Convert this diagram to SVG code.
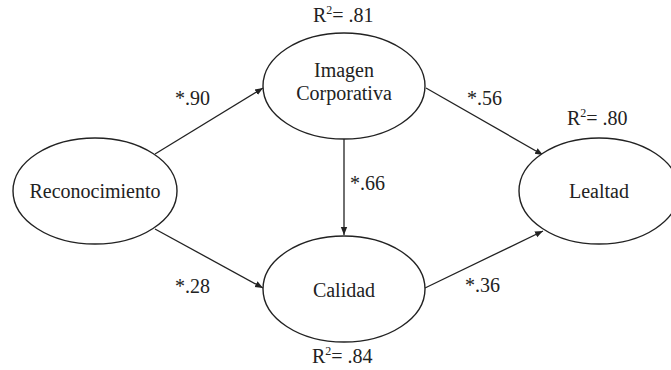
<svg xmlns="http://www.w3.org/2000/svg" width="671" height="370" viewBox="0 0 671 370">
<style>
.node ellipse{fill:#fff;stroke:#222;stroke-width:1.4}
text{font-family:'Liberation Serif','Times New Roman','DejaVu Serif',serif;font-size:20px;fill:#222}
.c{text-anchor:middle}
.edge{stroke:#222;stroke-width:1.3;fill:none;marker-end:url(#arr)}
.sup{font-size:12px}
</style>
<defs>
<marker id="arr" markerWidth="9" markerHeight="8" refX="8" refY="4" orient="auto" markerUnits="userSpaceOnUse">
<path d="M0,0.8 L8,4 L0,7.2 Z" fill="#222"/>
</marker>
</defs>
<rect width="671" height="370" fill="#fff"/>
<g id="connectors">
<line class="edge" x1="155" y1="154" x2="263" y2="88"/>
<line class="edge" x1="426" y1="88" x2="543" y2="155"/>
<line class="edge" x1="344" y1="139" x2="344" y2="235"/>
<line class="edge" x1="155" y1="229" x2="263" y2="288"/>
<line class="edge" x1="425" y1="288" x2="543" y2="231"/>
</g>
<g id="reconocimiento" class="node">
<ellipse cx="95" cy="191" rx="82" ry="53"/>
<text class="c" x="95" y="198" font-family="Liberation Serif, serif">Reconocimiento</text>
</g>
<g id="imagen" class="node">
<ellipse cx="344" cy="86" rx="81" ry="53"/>
<text class="c" x="344" y="77">Imagen</text>
<text class="c" x="344" y="100">Corporativa</text>
</g>
<g id="calidad" class="node">
<ellipse cx="344" cy="289" rx="81" ry="53"/>
<text class="c" x="344" y="297">Calidad</text>
</g>
<g id="lealtad" class="node">
<ellipse cx="599" cy="191" rx="80" ry="53"/>
<text class="c" x="599" y="198">Lealtad</text>
</g>
<g id="labels">
<text x="175" y="105">*.90</text>
<text x="467" y="105">*.56</text>
<text x="350" y="190">*.66</text>
<text x="175" y="293">*.28</text>
<text x="465" y="292">*.36</text>
<text x="313" y="22">R<tspan class="sup" dy="-8">2</tspan><tspan dy="8">= .81</tspan></text>
<text x="567" y="125">R<tspan class="sup" dy="-8">2</tspan><tspan dy="8">= .80</tspan></text>
<text x="312" y="363">R<tspan class="sup" dy="-8">2</tspan><tspan dy="8">= .84</tspan></text>
</g>
</svg>
